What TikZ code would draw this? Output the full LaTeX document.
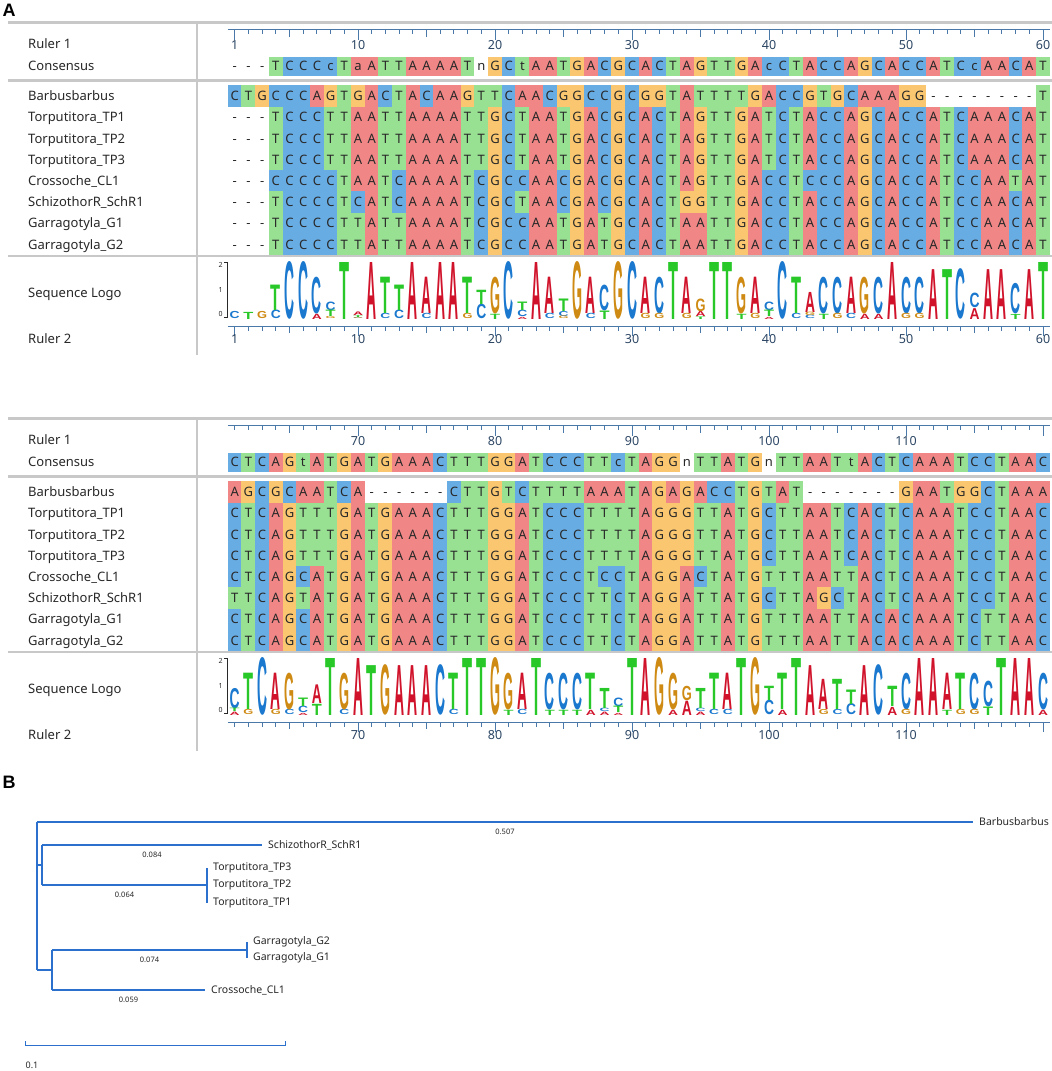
\documentclass[tikz,border=0pt]{standalone}
\usepackage{fontspec}
\usepackage{graphicx}
\usepackage{xstring}
\setmainfont{Noto Sans}
\newfontfamily\panelfont{Liberation Sans}
\newfontfamily\logofont{Liberation Sans}
\usetikzlibrary{positioning}

\definecolor{nucA}{RGB}{241,134,134}
\definecolor{nucC}{RGB}{104,172,228}
\definecolor{nucG}{RGB}{250,199,112}
\definecolor{nucT}{RGB}{152,224,146}
\definecolor{logoA}{RGB}{208,18,42}
\definecolor{logoC}{RGB}{26,120,206}
\definecolor{logoG}{RGB}{206,138,18}
\definecolor{logoT}{RGB}{40,200,40}
\definecolor{rulerblue}{RGB}{74,120,168}
\definecolor{rulertext}{RGB}{44,70,100}
\definecolor{treeblue}{RGB}{44,112,206}
\definecolor{framegray}{RGB}{200,200,200}
\definecolor{basetext}{RGB}{40,40,40}

\tikzset{
  frameline/.style={draw=framegray, line width=2.5pt},
  rulerline/.style={draw=rulerblue, line width=1pt},
  rulernum/.style={font=\fontsize{12.5}{14}\selectfont, text=rulertext, inner sep=0pt},
  rowlabel/.style={anchor=base west, font=\fontsize{13}{15}\selectfont, text=basetext, inner sep=0pt},
  nuc/.style={font=\fontsize{13}{15}\selectfont, text=basetext, text height=9.3pt, text depth=0pt, inner sep=0pt},
  logoglyph/.style={anchor=south, inner sep=0pt, outer sep=0pt},
  logoaxis/.style={draw=basetext, line width=0.8pt},
  axisnum/.style={font=\fontsize{7}{8}\selectfont, text=basetext, inner sep=0pt},
  treeline/.style={draw=treeblue, line width=1.7pt},
  leaf/.style={anchor=west, inner xsep=6pt, inner ysep=1pt, font=\fontsize{10.5}{12}\selectfont, text=basetext},
  blen/.style={below=6pt, font=\fontsize{7.5}{8.5}\selectfont, text=basetext, inner sep=0pt},
  scalelab/.style={font=\fontsize{9}{10}\selectfont, text=basetext, inner sep=0pt},
  panel/.style={font=\panelfont\bfseries\fontsize{18}{20}\selectfont, text=black, inner sep=0pt}
}

\newcount\cntA \newcount\cntC \newcount\cntG \newcount\cntT
\def\colzero{234.7}
\def\colw{13.7}
\def\bitpx{28.5}

\def\seqCons{---TCCCcTaATTAAAATnGCtAATGACGCACTAGTTGAcCTACCAGCACCATCcAACATCTCAGtATGATGAAACTTTGGATCCCTTcTAGGnTTATGnTTAATtACTCAAATCCTAAC}
\def\seqBB{CTGCCCAGTGACTACAAGTTCAACGGCCGCGGTATTTTGACCGTGCAAAGG--------TAGCGCAATCA------CTTGTCTTTTAAATAGAGACCTGTAT-------GAATGGCTAAA}
\def\seqTPa{---TCCCTTAATTAAAATTGCTAATGACGCACTAGTTGATCTACCAGCACCATCAAACATCTCAGTTTGATGAAACTTTGGATCCCTTTTAGGGTTATGCTTAATCACTCAAATCCTAAC}
\def\seqTPb{---TCCCTTAATTAAAATTGCTAATGACGCACTAGTTGATCTACCAGCACCATCAAACATCTCAGTTTGATGAAACTTTGGATCCCTTTTAGGGTTATGCTTAATCACTCAAATCCTAAC}
\def\seqTPc{---TCCCTTAATTAAAATTGCTAATGACGCACTAGTTGATCTACCAGCACCATCAAACATCTCAGTTTGATGAAACTTTGGATCCCTTTTAGGGTTATGCTTAATCACTCAAATCCTAAC}
\def\seqCL{---CCCCCTAATCAAAATCGCCAACGACGCACTAGTTGACCTCCCAGCACCATCCAATATCTCAGCATGATGAAACTTTGGATCCCTCCTAGGACTATGTTTAATTACTCAAATCCTAAC}
\def\seqSch{---TCCCCTCATCAAAATCGCTAACGACGCACTGGTTGACCTACCAGCACCATCCAACATTTCAGTATGATGAAACTTTGGATCCCTTCTAGGATTATGCTTAGCTACTCAAATCCTAAC}
\def\seqGa{---TCCCCTTATTAAAATCGCCAATGATGCACTAATTGACCTACCAGCACCATCCAACATCTCAGCATGATGAAACTTTGGATCCCTTCTAGGATTATGTTTAATTACACAAATCTTAAC}
\def\seqGb{---TCCCCTTATTAAAATCGCCAATGATGCACTAATTGACCTACCAGCACCATCCAACATCTCAGCATGATGAAACTTTGGATCCCTTCTAGGATTATGTTTAATTACACAAATCTTAAC}

\newcommand\nuccolor[1]{%
  \def\nucfill{white}%
  \if#1A\def\nucfill{nucA}\fi \if#1a\def\nucfill{nucA}\fi
  \if#1C\def\nucfill{nucC}\fi \if#1c\def\nucfill{nucC}\fi
  \if#1G\def\nucfill{nucG}\fi \if#1g\def\nucfill{nucG}\fi
  \if#1T\def\nucfill{nucT}\fi \if#1t\def\nucfill{nucT}\fi}

\newcommand\countnuc[2]{%
  \StrChar{#1}{#2}[\ch]%
  \if\ch A\global\advance\cntA 1 \fi
  \if\ch C\global\advance\cntC 1 \fi
  \if\ch G\global\advance\cntG 1 \fi
  \if\ch T\global\advance\cntT 1 \fi}

\newcommand\alnrow[4]{% sequence, first column, centre y, half height
  \foreach \jj in {1,...,60}{%
    \pgfmathtruncatemacro\colidx{#2+\jj-1}%
    \StrChar{#1}{\colidx}[\ch]%
    \nuccolor{\ch}%
    \pgfmathsetmacro\xc{\colzero+(\jj-1)*\colw}%
    \fill[fill=\nucfill] (\xc-6.95,#3-#4) rectangle (\xc+6.95,#3+#4);
    \node[nuc] at (\xc,#3) {\ch};
  }}

\newcommand\rulerbar[3]{% first column, baseline y, label y
  \draw[rulerline] (\colzero-6.85,#2) -- (\colzero+59.5*\colw,#2);
  \foreach \jj in {1,...,60}{%
    \pgfmathtruncatemacro\colidx{#1+\jj-1}%
    \pgfmathsetmacro\xc{\colzero+(\jj-1)*\colw}%
    \pgfmathsetmacro\ticklen{ifthenelse(or(mod(\colidx,10)==0,\colidx==1),10,ifthenelse(mod(\colidx,5)==0,7,4.5))}%
    \draw[rulerline] (\xc,#2) -- ++(0,\ticklen);
    \pgfmathtruncatemacro\showlab{or(and(mod(\colidx,10)==0,\colidx<120),\colidx==1)}%
    \ifnum\showlab=1 \node[rulernum] at (\xc,#3) {\colidx};\fi
  }}

\newcommand\logoletter[4]{%
  \ifdim#4pt>0.4pt
    \node[logoglyph,text=logo#1] at (#2,#3) {\resizebox{10pt}{#4pt}{\logofont\bfseries #1}};
  \fi}

\newcommand\logoblock[2]{% first column, baseline y
  \foreach \jj in {1,...,60}{%
    \pgfmathtruncatemacro\colidx{#1+\jj-1}%
    \global\cntA=0 \global\cntC=0 \global\cntG=0 \global\cntT=0
    \countnuc{\seqBB}{\colidx}\countnuc{\seqTPa}{\colidx}\countnuc{\seqTPb}{\colidx}%
    \countnuc{\seqTPc}{\colidx}\countnuc{\seqCL}{\colidx}\countnuc{\seqSch}{\colidx}%
    \countnuc{\seqGa}{\colidx}\countnuc{\seqGb}{\colidx}%
    \edef\kA{\the\cntA}\edef\kC{\the\cntC}\edef\kG{\the\cntG}\edef\kT{\the\cntT}%
    \pgfmathtruncatemacro\nn{\kA+\kC+\kG+\kT}%
    \pgfmathsetmacro\xc{\colzero+(\jj-1)*\colw}%
    \ifnum\nn>0
      \pgfmathsetmacro\info{\nn/8*(2+plogp(\kA,\nn)+plogp(\kC,\nn)+plogp(\kG,\nn)+plogp(\kT,\nn))*\bitpx}%
      \pgfmathsetmacro\hA{\kA/\nn*\info}\pgfmathsetmacro\hC{\kC/\nn*\info}%
      \pgfmathsetmacro\hG{\kG/\nn*\info}\pgfmathsetmacro\hT{\kT/\nn*\info}%
      \pgfmathsetmacro\oA{\hC*(\kC<\kA)+\hG*(\kG<\kA)+\hT*(\kT<\kA)}%
      \pgfmathsetmacro\oC{\hA*(\kA<(\kC+0.5))+\hG*(\kG<\kC)+\hT*(\kT<\kC)}%
      \pgfmathsetmacro\oG{\hA*(\kA<(\kG+0.5))+\hC*(\kC<(\kG+0.5))+\hT*(\kT<\kG)}%
      \pgfmathsetmacro\oT{\hA*(\kA<(\kT+0.5))+\hC*(\kC<(\kT+0.5))+\hG*(\kG<(\kT+0.5))}%
      \logoletter{A}{\xc}{#2-\oA}{\hA}%
      \logoletter{C}{\xc}{#2-\oC}{\hC}%
      \logoletter{G}{\xc}{#2-\oG}{\hG}%
      \logoletter{T}{\xc}{#2-\oT}{\hT}%
    \fi
  }}

\newcommand\alnblock[2]{% first column, block tag
  \alnrow{\seqCons}{#1}{66}{9.5}
  \alnrow{\seqBB}{#1}{96}{10.7}
  \alnrow{\seqTPa}{#1}{117.2}{10.7}
  \alnrow{\seqTPb}{#1}{138.4}{10.7}
  \alnrow{\seqTPc}{#1}{159.6}{10.7}
  \alnrow{\seqCL}{#1}{180.8}{10.7}
  \alnrow{\seqSch}{#1}{202}{10.7}
  \alnrow{\seqGa}{#1}{223.2}{10.7}
  \alnrow{\seqGb}{#1}{244.4}{10.7}
  \draw[frameline] (8,22.5) -- (1052,22.5);
  \draw[frameline] (8,80.5) -- (1052,80.5);
  \draw[frameline] (8,256) -- (1052,256);
  \draw[frameline] (197,22.5) -- (197,355);
  \node[rowlabel] (ruler1-#2) at (28,48) {Ruler 1};
  \node[rowlabel] (cons-#2) at (28,70.6) {Consensus};
  \node[rowlabel] (bb-#2) at (28,100.6) {Barbusbarbus};
  \node[rowlabel] (tp1-#2) at (28,121.8) {Torputitora\_TP1};
  \node[rowlabel] (tp2-#2) at (28,143) {Torputitora\_TP2};
  \node[rowlabel] (tp3-#2) at (28,164.2) {Torputitora\_TP3};
  \node[rowlabel] (cl-#2) at (28,185.4) {Crossoche\_CL1};
  \node[rowlabel] (sch-#2) at (28,206.6) {SchizothorR\_SchR1};
  \node[rowlabel] (ga-#2) at (28,227.8) {Garragotyla\_G1};
  \node[rowlabel] (gb-#2) at (28,249) {Garragotyla\_G2};
  \node[rowlabel] (logo-#2) at (28,297.6) {Sequence Logo};
  \node[rowlabel] (ruler2-#2) at (28,343.6) {Ruler 2};
  \rulerbar{#1}{29.5}{45}
  \draw[logoaxis] (224,262) -- (227,262) -- (227,317) -- (224,317);
  \node[axisnum] (ax2-#2) at (220.5,265) {2};
  \node[axisnum] (ax1-#2) at (220.5,290) {1};
  \node[axisnum] (ax0-#2) at (220.5,314) {0};
  \logoblock{#1}{319}
  \rulerbar{#1}{326}{339}
}

\begin{document}
\begin{tikzpicture}[x=1pt,y=-1pt,
  declare function={plogp(\x,\y)=(\x>0)*(\x/\y)*ln(max(\x,1)/\y)/ln(2);}]
  \useasboundingbox[fill=white] (0,0) rectangle (1052,1071);
  \node[panel] (labA) at (9,10) {A};
  \begin{scope}
    \alnblock{1}{a}
  \end{scope}
  \begin{scope}[yshift=-396pt]
    \alnblock{61}{b}
  \end{scope}

  % tree
  \node[panel] (labB) at (9,782) {B};
  \coordinate (root) at (37,822);
  \coordinate (rootend) at (37,970);
  \coordinate (cladeST) at (42,865);
  \coordinate (cladeGC) at (52,970);
  \coordinate (tpnode) at (207,885);
  \coordinate (ganode) at (247,950);
  \node[leaf] (bb) at (973,822) {Barbusbarbus};
  \node[leaf] (sch) at (262,845) {SchizothorR\_SchR1};
  \node[leaf] (tp3) at (207,868) {Torputitora\_TP3};
  \node[leaf] (tp2) at (207,885) {Torputitora\_TP2};
  \node[leaf] (tp1) at (207,903) {Torputitora\_TP1};
  \node[leaf] (g2) at (247,942) {Garragotyla\_G2};
  \node[leaf] (g1) at (247,958) {Garragotyla\_G1};
  \node[leaf] (cl) at (205,990) {Crossoche\_CL1};
  \draw[treeline] (root) -- (bb.west) node[blen,midway] {0.507};
  \draw[treeline] (root) -- (rootend);
  \draw[treeline] (root |- cladeST) -- (cladeST);
  \draw[treeline] (cladeST |- sch.west) -- (cladeST |- tpnode);
  \draw[treeline] (cladeST |- sch.west) -- (sch.west) node[blen,midway] {0.084};
  \draw[treeline] (cladeST |- tpnode) -- (tpnode) node[blen,midway] {0.064};
  \draw[treeline] (tp3.west) -- (tp1.west);
  \draw[treeline] (rootend) -- (cladeGC);
  \draw[treeline] (cladeGC |- ganode) -- (cladeGC |- cl.west);
  \draw[treeline] (cladeGC |- ganode) -- (ganode) node[blen,midway] {0.074};
  \draw[treeline] (g2.west) -- (g1.west);
  \draw[treeline] (cladeGC |- cl.west) -- (cl.west) node[blen,midway] {0.059};

  % scale bar
  \coordinate (sbl) at (25,1045);
  \coordinate (sbr) at (285,1045);
  \draw[treeline,line width=1pt] (sbl) ++(0,-4) -- (sbl) -- (sbr) -- ++(0,-4);
  \node[scalelab] (sbtext) at (32,1065) {0.1};
\end{tikzpicture}
\end{document}
